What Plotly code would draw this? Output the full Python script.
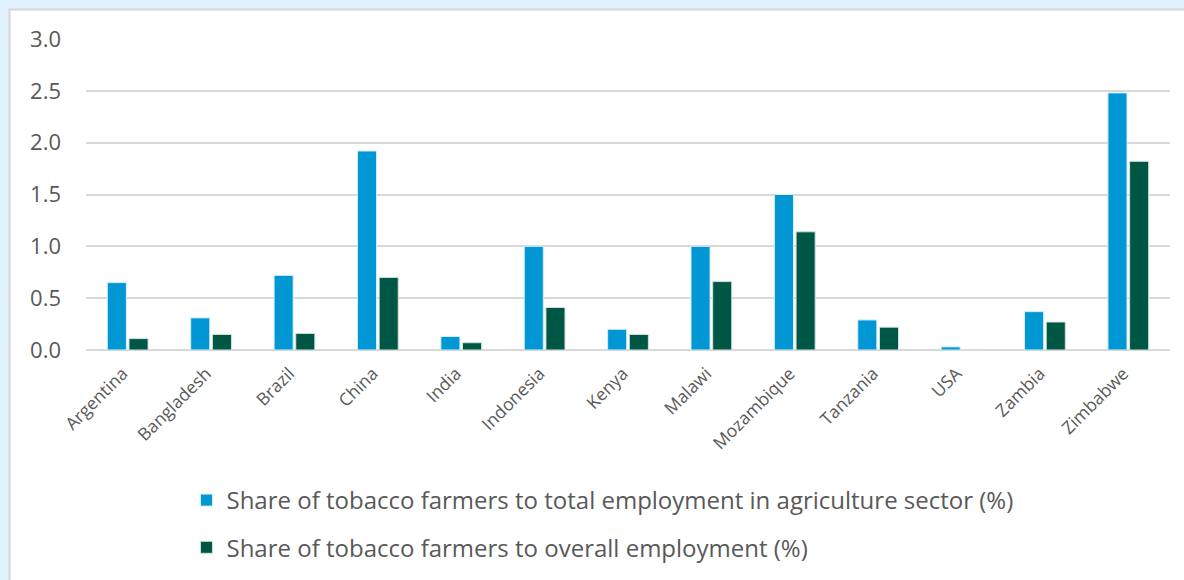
import plotly.graph_objects as go

countries = ["Argentina", "Bangladesh", "Brazil", "China", "India", "Indonesia", "Kenya",
             "Malawi", "Mozambique", "Tanzania", "USA", "Zambia", "Zimbabwe"]
share_agri = [0.65, 0.31, 0.72, 1.92, 0.13, 1.00, 0.20, 1.00, 1.50, 0.29, 0.03, 0.37, 2.48]
share_overall = [0.11, 0.15, 0.16, 0.70, 0.07, 0.41, 0.15, 0.66, 1.14, 0.22, 0.0, 0.27, 1.82]
y_ticks = [0.0, 0.5, 1.0, 1.5, 2.0, 2.5, 3.0]
name_agri = "Share of tobacco farmers to total employment in agriculture sector (%)"
name_overall = "Share of tobacco farmers to overall employment (%)"

W, H = 1184, 580
ML, MR, MT, MB = 86, 14, 39, 230
pw = W - ML - MR
ph = H - MT - MB

def px_x(x):
    return (x - ML) / pw

def px_y(y):
    return (H - MB - y) / ph

fig = go.Figure()
fig.add_trace(go.Bar(x=countries, y=share_agri, name=name_agri, legendgroup="a",
                     marker=dict(color="#0097d4", line=dict(color="#d6eef8", width=1))))
fig.add_trace(go.Bar(x=countries, y=share_overall, name=name_overall, legendgroup="b",
                     marker=dict(color="#005645", line=dict(color="#cfe3de", width=1))))

fig.add_shape(type="rect", xref="paper", yref="paper",
              x0=px_x(9.5), x1=px_x(1200), y0=px_y(600), y1=px_y(9.5),
              fillcolor="white", line=dict(color="#d5d5d5", width=2), layer="below")

fig.update_layout(
    width=W, height=H,
    margin=dict(l=ML, r=MR, t=MT, b=MB, autoexpand=False),
    paper_bgcolor="#e0f2fd",
    plot_bgcolor="rgba(0,0,0,0)",
    font=dict(family="Open Sans", color="#595959"),
    barmode="group", bargap=0.48, bargroupgap=0.12,
    legend=dict(orientation="v", xref="container", yref="container",
                x=0.1575, y=1 - 478 / H, xanchor="left", yanchor="top",
                font=dict(size=24, color="#595959"), tracegroupgap=13,
                traceorder="grouped", bgcolor="rgba(0,0,0,0)"),
    xaxis=dict(tickangle=-45, tickfont=dict(size=17.5, color="#595959"),
               showgrid=False, showline=False, ticks="",
               ticklabelstandoff=9, ticklabelshift=-5),
    yaxis=dict(range=[0, 3], tickvals=y_ticks, ticktext=[f"{v:.1f}" for v in y_ticks],
               tickfont=dict(size=22, color="#595959"), showgrid=True,
               gridcolor="#d9d9d9", gridwidth=1.5, zeroline=True, zerolinecolor="#d9d9d9",
               zerolinewidth=1.5, ticklabelstandoff=24),
)

fig.write_html("out.html")
